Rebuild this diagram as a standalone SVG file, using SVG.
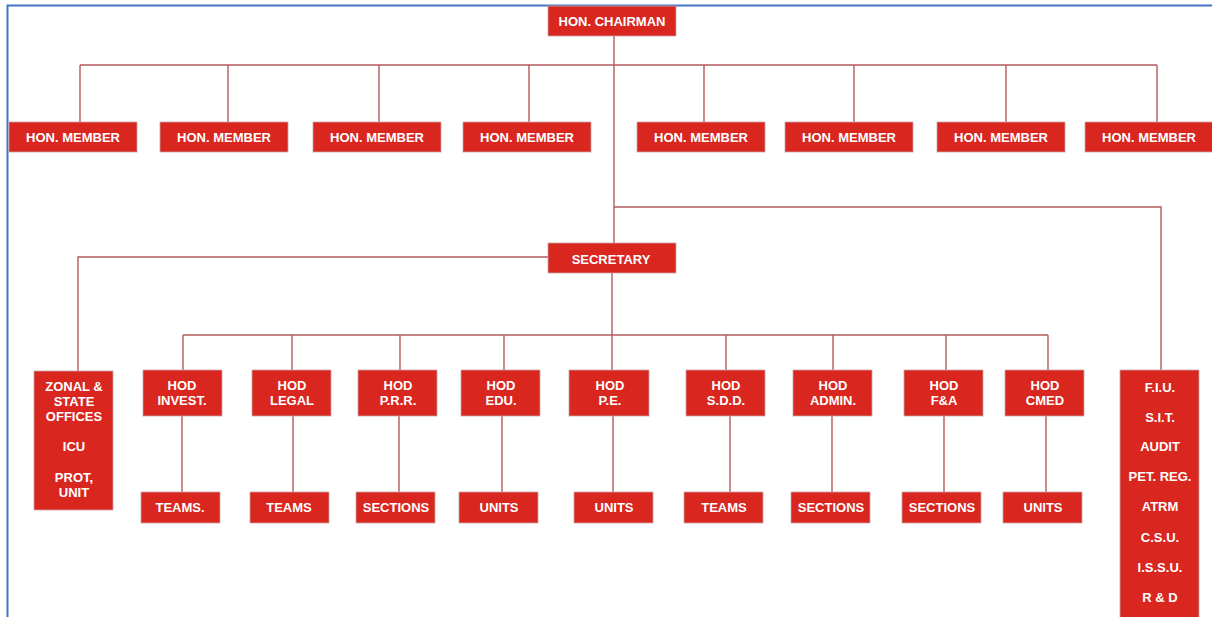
<svg xmlns="http://www.w3.org/2000/svg" width="1212" height="617" viewBox="0 0 1212 617">
<style>
.box{fill:#D9261F;stroke:#c9a5a5;stroke-width:0.8}
.t{font-family:"Liberation Sans",Arial,sans-serif;font-weight:bold;font-size:13px;fill:#ffffff;text-anchor:middle;dominant-baseline:central}
.ln{fill:none;stroke:#B35A5C;stroke-width:1.4}
.frame{fill:none;stroke:#4472C4;stroke-width:2}
</style>
<rect x="0" y="0" width="1212" height="617" fill="#ffffff"/>
<path class="frame" d="M7.5 617 V5.5 H1212"/>
<g id="connectors">
<path class="ln" d="M614 36 V243"/>
<path class="ln" d="M80 65 H1157"/>
<path class="ln" d="M80 65 V122 M228 65 V122 M379 65 V122 M529 65 V122 M704 65 V122 M854 65 V122 M1006 65 V122 M1157 65 V122"/>
<path class="ln" d="M614 207 H1161 V370"/>
<path class="ln" d="M548 257 H78 V371"/>
<path class="ln" d="M612 273 V370"/>
<path class="ln" d="M183 335 H1048"/>
<path class="ln" d="M183 335 V370 M292 335 V370 M400 335 V370 M504 335 V370 M726 335 V370 M833 335 V370 M946 335 V370 M1048 335 V370"/>
<path class="ln" d="M182 416 V492 M293 416 V492 M399 416 V492 M502 416 V492 M613 416 V492 M730 416 V492 M832 416 V492 M944 416 V492 M1046 416 V492"/>
</g>
<g id="chairman"><rect class="box" x="548" y="6" width="128" height="30"/><text class="t" x="612" y="21">HON. CHAIRMAN</text></g>
<g id="member1"><rect class="box" x="9" y="122" width="128" height="30"/><text class="t" x="73" y="137">HON. MEMBER</text></g>
<g id="member2"><rect class="box" x="160" y="122" width="128" height="30"/><text class="t" x="224" y="137">HON. MEMBER</text></g>
<g id="member3"><rect class="box" x="313" y="122" width="128" height="30"/><text class="t" x="377" y="137">HON. MEMBER</text></g>
<g id="member4"><rect class="box" x="463" y="122" width="128" height="30"/><text class="t" x="527" y="137">HON. MEMBER</text></g>
<g id="member5"><rect class="box" x="637" y="122" width="128" height="30"/><text class="t" x="701" y="137">HON. MEMBER</text></g>
<g id="member6"><rect class="box" x="785" y="122" width="128" height="30"/><text class="t" x="849" y="137">HON. MEMBER</text></g>
<g id="member7"><rect class="box" x="937" y="122" width="128" height="30"/><text class="t" x="1001" y="137">HON. MEMBER</text></g>
<g id="member8"><rect class="box" x="1085" y="122" width="128" height="30"/><text class="t" x="1149" y="137">HON. MEMBER</text></g>
<g id="secretary"><rect class="box" x="548" y="243" width="128" height="30"/><text class="t" x="611" y="259">SECRETARY</text></g>
<g id="zonal"><rect class="box" x="34" y="371" width="79" height="139"/>
<text class="t" x="74" y="386">ZONAL &amp;</text><text class="t" x="74" y="401">STATE</text><text class="t" x="74" y="416">OFFICES</text><text class="t" x="74" y="446">ICU</text><text class="t" x="74" y="477">PROT,</text><text class="t" x="74" y="492">UNIT</text></g>
<g id="hod-invest"><rect class="box" x="143" y="370" width="79" height="46"/><text class="t" x="182" y="385">HOD</text><text class="t" x="182" y="400">INVEST.</text></g>
<g id="hod-legal"><rect class="box" x="252" y="370" width="79" height="46"/><text class="t" x="292" y="385">HOD</text><text class="t" x="292" y="400">LEGAL</text></g>
<g id="hod-prr"><rect class="box" x="358" y="370" width="79" height="46"/><text class="t" x="398" y="385">HOD</text><text class="t" x="398" y="400">P.R.R.</text></g>
<g id="hod-edu"><rect class="box" x="461" y="370" width="79" height="46"/><text class="t" x="501" y="385">HOD</text><text class="t" x="501" y="400">EDU.</text></g>
<g id="hod-pe"><rect class="box" x="569" y="370" width="80" height="46"/><text class="t" x="610" y="385">HOD</text><text class="t" x="610" y="400">P.E.</text></g>
<g id="hod-sdd"><rect class="box" x="686" y="370" width="79" height="46"/><text class="t" x="726" y="385">HOD</text><text class="t" x="726" y="400">S.D.D.</text></g>
<g id="hod-admin"><rect class="box" x="793" y="370" width="79" height="46"/><text class="t" x="833" y="385">HOD</text><text class="t" x="833" y="400">ADMIN.</text></g>
<g id="hod-fa"><rect class="box" x="904" y="370" width="79" height="46"/><text class="t" x="944" y="385">HOD</text><text class="t" x="944" y="400">F&amp;A</text></g>
<g id="hod-cmed"><rect class="box" x="1005" y="370" width="79" height="46"/><text class="t" x="1045" y="385">HOD</text><text class="t" x="1045" y="400">CMED</text></g>
<g id="teams-invest"><rect class="box" x="141" y="492" width="79" height="31"/><text class="t" x="180" y="507">TEAMS.</text></g>
<g id="teams-legal"><rect class="box" x="250" y="492" width="79" height="31"/><text class="t" x="289" y="507">TEAMS</text></g>
<g id="sections-prr"><rect class="box" x="356" y="492" width="79" height="31"/><text class="t" x="396" y="507">SECTIONS</text></g>
<g id="units-edu"><rect class="box" x="459" y="492" width="79" height="31"/><text class="t" x="499" y="507">UNITS</text></g>
<g id="units-pe"><rect class="box" x="574" y="492" width="79" height="31"/><text class="t" x="614" y="507">UNITS</text></g>
<g id="teams-sdd"><rect class="box" x="684" y="492" width="79" height="31"/><text class="t" x="724" y="507">TEAMS</text></g>
<g id="sections-admin"><rect class="box" x="791" y="492" width="79" height="31"/><text class="t" x="831" y="507">SECTIONS</text></g>
<g id="sections-fa"><rect class="box" x="902" y="492" width="79" height="31"/><text class="t" x="942" y="507">SECTIONS</text></g>
<g id="units-cmed"><rect class="box" x="1003" y="492" width="79" height="31"/><text class="t" x="1043" y="507">UNITS</text></g>
<g id="fiu"><rect class="box" x="1120" y="370" width="79" height="250"/>
<text class="t" x="1160" y="387">F.I.U.</text><text class="t" x="1160" y="417">S.I.T.</text><text class="t" x="1160" y="446">AUDIT</text><text class="t" x="1160" y="476">PET. REG.</text><text class="t" x="1160" y="506">ATRM</text><text class="t" x="1160" y="537">C.S.U.</text><text class="t" x="1160" y="567">I.S.S.U.</text><text class="t" x="1160" y="597">R &amp; D</text></g>
</svg>
